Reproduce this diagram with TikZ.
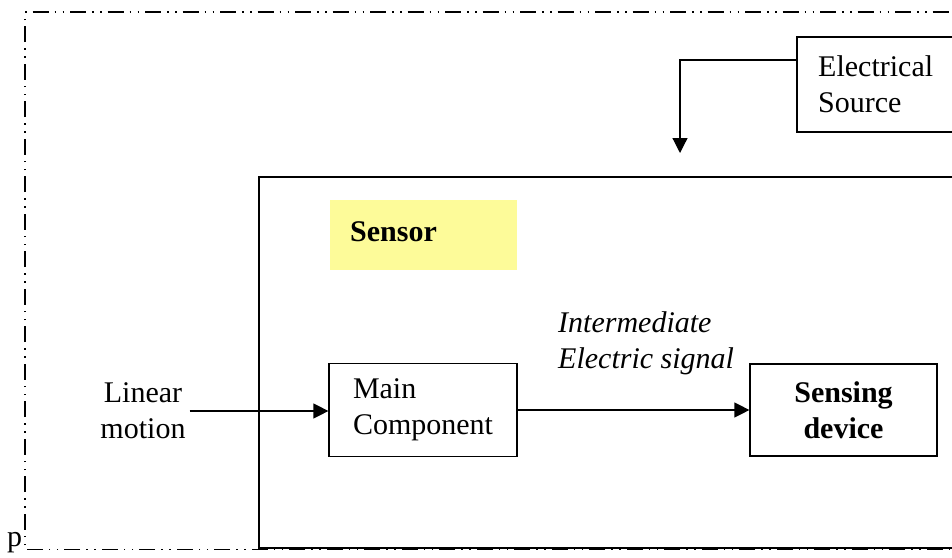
\documentclass[tikz,border=0pt]{standalone}
\usepackage{fontspec}
\setmainfont{Liberation Serif}
\usetikzlibrary{arrows.meta}
\definecolor{labelyellow}{HTML}{FDFB99}
\tikzset{
  txt/.style={font=\fontsize{30}{36}\selectfont, inner sep=0pt, align=center},
  box/.style={draw, line width=1.2pt, inner sep=0pt, font=\fontsize{30}{36}\selectfont, align=left},
  arr/.style={line width=1.2pt, -{Triangle[length=15pt,width=15pt]}},
  border/.style={line width=1.1pt, dash pattern=on 16pt off 6pt on 1.5pt off 6.5pt on 1.5pt off 6pt}
}
\begin{document}
\begin{tikzpicture}[x=1pt,y=-1pt]
\useasboundingbox (0,0) rectangle (952,557);
\clip (0,0) rectangle (952,557);
% outer dash-dot-dot border
\draw[border] (980,549.5) -- (25,549.5) -- (25,12) -- (980,12);
% sensor enclosure
\node[draw, line width=1.6pt, minimum width=711pt, minimum height=371pt, inner sep=0pt] (sensor) at (614.5,362.5) {};
% yellow label
\node[fill=labelyellow, minimum width=187pt, minimum height=70pt, inner sep=0pt] (sensorlab) at (423.5,235) {};
\node[txt, anchor=west, font=\fontsize{30}{36}\selectfont\bfseries] (sensortxt) at (350,232) {Sensor};
% electrical source
\node[box, minimum width=173pt, minimum height=95pt] (elec) at (883.5,84.5) {};
\node[txt, anchor=west, align=left] (electxt) at (818,84) {Electrical\\Source};
\coordinate (ein) at (680,153);
\draw[arr] ([yshift=24.5pt]elec.west) -| (ein);
% main component
\node[box, minimum width=188pt, minimum height=93pt] (main) at (423,410) {Main\\Component};
% sensing device
\node[box, minimum width=187pt, minimum height=92pt, align=center, font=\fontsize{30}{36}\selectfont\bfseries] (sens) at (843.5,410) {Sensing\\device};
% linear motion
\node[txt] (lin) at (143,411) {Linear\\motion};
\draw[arr] (lin.east) ++(4pt,0) -- (main.west |- lin.east);
% intermediate signal
\node[txt, anchor=west, align=left, font=\fontsize{30}{36}\selectfont\itshape] (inter) at (558,343) {Intermediate\\Electric signal};
\draw[arr] (main.east) -- (sens.west);
% stray p
\node[txt, anchor=base west] (p) at (7,546) {p};
\end{tikzpicture}
\end{document}
